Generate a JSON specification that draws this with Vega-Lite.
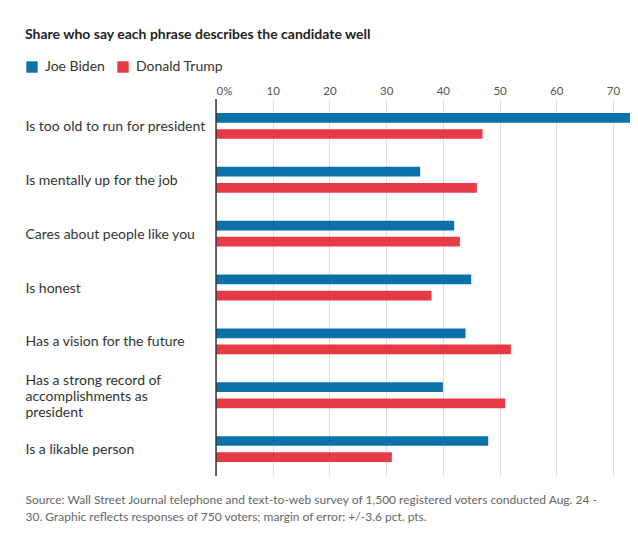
{
  "$schema": "https://vega.github.io/schema/vega-lite/v6.json",
  "autosize": {"type": "none"},
  "padding": {"left": 216, "top": 99, "right": 8, "bottom": 57},
  "width": 414,
  "height": 377,
  "background": "white",
  "title": {
    "text": "Share who say each phrase describes the candidate well",
    "anchor": "start",
    "frame": "group",
    "dx": -191,
    "offset": 18,
    "font": "Lato",
    "fontSize": 14,
    "fontWeight": "bold",
    "color": "#222222"
  },
  "config": {
    "view": {"stroke": null},
    "font": "Lato"
  },
  "resolve": {"axis": {"x": "independent"}},
  "layer": [
    {
      "data": {
        "values": [
          {"phrase": "Is too old to run for president", "candidate": "Joe Biden", "value": 73},
          {"phrase": "Is too old to run for president", "candidate": "Donald Trump", "value": 47},
          {"phrase": "Is mentally up for the job", "candidate": "Joe Biden", "value": 36},
          {"phrase": "Is mentally up for the job", "candidate": "Donald Trump", "value": 46},
          {"phrase": "Cares about people like you", "candidate": "Joe Biden", "value": 42},
          {"phrase": "Cares about people like you", "candidate": "Donald Trump", "value": 43},
          {"phrase": "Is honest", "candidate": "Joe Biden", "value": 45},
          {"phrase": "Is honest", "candidate": "Donald Trump", "value": 38},
          {"phrase": "Has a vision for the future", "candidate": "Joe Biden", "value": 44},
          {"phrase": "Has a vision for the future", "candidate": "Donald Trump", "value": 52},
          {"phrase": "Has a strong record of accomplishments as president", "candidate": "Joe Biden", "value": 40},
          {"phrase": "Has a strong record of accomplishments as president", "candidate": "Donald Trump", "value": 51},
          {"phrase": "Is a likable person", "candidate": "Joe Biden", "value": 48},
          {"phrase": "Is a likable person", "candidate": "Donald Trump", "value": 31}
        ]
      },
      "mark": {"type": "bar"},
      "encoding": {
        "y": {
          "field": "phrase",
          "type": "nominal",
          "sort": null,
          "scale": {"paddingInner": 0.52, "paddingOuter": 0.26},
          "axis": {
            "title": null,
            "domain": false,
            "ticks": false,
            "grid": false,
            "labelAlign": "left",
            "labelPadding": 191,
            "labelFontSize": 14,
            "labelColor": "#333333",
            "labelLimit": 200,
            "labelLineHeight": 16,
            "labelOffset": {"condition": {"test": "datum.value == 'Has a strong record of accomplishments as president'", "value": -14}, "value": 1},
            "labelExpr": "datum.value == 'Has a strong record of accomplishments as president' ? ['Has a strong record of', 'accomplishments as', 'president'] : datum.value"
          }
        },
        "yOffset": {
          "field": "candidate",
          "type": "nominal",
          "sort": ["Joe Biden", "Donald Trump"],
          "scale": {"paddingInner": 0.4, "paddingOuter": 0}
        },
        "x": {
          "field": "value",
          "type": "quantitative",
          "scale": {"domain": [0, 73], "nice": false},
          "axis": {
            "orient": "top",
            "title": null,
            "values": [0, 10, 20, 30, 40, 50, 60, 70],
            "labelExpr": "datum.value == 0 ? '0%' : datum.label",
            "domain": false,
            "ticks": false,
            "grid": true,
            "gridColor": "#dddddd",
            "gridWidth": 1,
            "labelFontSize": 11.5,
            "labelColor": "#555555",
            "labelPadding": 3
          }
        },
        "color": {
          "field": "candidate",
          "type": "nominal",
          "sort": ["Joe Biden", "Donald Trump"],
          "scale": {"domain": ["Joe Biden", "Donald Trump"], "range": ["#0a71a9", "#e63b47"]},
          "legend": {
            "title": null,
            "orient": "none",
            "direction": "horizontal",
            "legendX": -191,
            "legendY": -39,
            "symbolType": "square",
            "symbolSize": 130,
            "symbolOpacity": 1,
            "symbolStrokeWidth": 0,
            "labelFontSize": 14,
            "labelColor": "#333333",
            "labelOffset": 6,
            "columnPadding": 11
          }
        }
      }
    },
    {
      "data": {"values": [{"zero": 0}]},
      "mark": {"type": "rule", "color": "#333333", "strokeWidth": 1.5},
      "encoding": {
        "x": {
          "field": "zero",
          "type": "quantitative",
          "axis": {
            "orient": "bottom",
            "labels": false,
            "ticks": false,
            "domain": false,
            "grid": false,
            "title": ["Source: Wall Street Journal telephone and text-to-web survey of 1,500 registered voters conducted Aug. 24 -", "30. Graphic reflects responses of 750 voters; margin of error: +/-3.6 pct. pts."],
            "titleAnchor": "start",
            "titleAlign": "left",
            "titleBaseline": "top",
            "titleX": -191,
            "titleY": 18,
            "titleFontSize": 12,
            "titleFontWeight": "normal",
            "titleColor": "#666666",
            "titleLineHeight": 17
          }
        }
      }
    }
  ]
}
